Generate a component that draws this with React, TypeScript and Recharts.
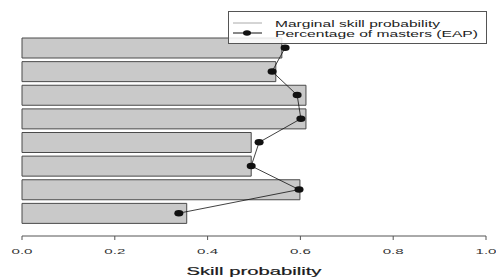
import React from 'react';
import { ComposedChart, Bar, Line, XAxis, YAxis } from 'recharts';

const skills = ['A1', 'A2', 'A3', 'A4', 'A5', 'A6', 'A7', 'A8'];
const marginal = [0.56, 0.547, 0.612, 0.612, 0.494, 0.494, 0.599, 0.355];
const eap = [0.567, 0.539, 0.593, 0.601, 0.511, 0.494, 0.597, 0.338];
const xTicks = [0, 0.2, 0.4, 0.6, 0.8, 1.0];

const data = skills.map((s, i) => ({ skill: s, marginal: marginal[i], eap: eap[i] }));

const FONT = '"Liberation Sans", Arial, sans-serif';

const TickLabel = (props: any) => {
    const { x, y, payload } = props;
    return (
        <text
            x={x}
            y={y + 14}
            textAnchor="middle"
            fontFamily={FONT}
            fontSize={8}
            fill="#333"
            textLength={21}
            lengthAdjust="spacingAndGlyphs"
        >
            {Number(payload.value).toFixed(1)}
        </text>
    );
};

const AxisTitle = (props: any) => {
    const { viewBox } = props;
    const cx = viewBox.x + viewBox.width / 2;
    return (
        <text
            x={cx}
            y={275}
            textAnchor="middle"
            fontFamily={FONT}
            fontSize={11}
            fill="#1a1a1a"
            stroke="#1a1a1a"
            strokeWidth={0.2}
            textLength={135}
            lengthAdjust="spacingAndGlyphs"
        >
            Skill probability
        </text>
    );
};

const Dot = (props: any) => {
    const { cx, cy, index } = props;
    return <ellipse key={'d' + index} cx={cx} cy={cy} rx={4.5} ry={3.2} fill="#111" />;
};

const ChartLegend = () => (
    <svg width={260} height={34} style={{ position: 'absolute', left: 228, top: 11 }}>
        <rect x={0.5} y={0.5} width={258} height={32} fill="#fff" fillOpacity={0.85} stroke="#555" />
        <line x1={5} x2={34} y1={12} y2={12} stroke="#aaa" strokeWidth={1} />
        <line x1={5} x2={34} y1={22} y2={22} stroke="#111" strokeWidth={1} />
        <ellipse cx={19} cy={22} rx={4} ry={2.8} fill="#111" />
        <text x={47} y={16} fontFamily={FONT} fontSize={9} fill="#222" textLength={165} lengthAdjust="spacingAndGlyphs">
            Marginal skill probability
        </text>
        <text x={47} y={26} fontFamily={FONT} fontSize={9} fill="#222" textLength={203} lengthAdjust="spacingAndGlyphs">
            Percentage of masters (EAP)
        </text>
    </svg>
);

const App = () => {
    return (
        <div style={{ position: 'absolute', left: 0, top: 0, width: 496, height: 277, background: '#fff' }}>
            <ComposedChart
                width={496}
                height={277}
                data={data}
                layout="vertical"
                margin={{ top: 36, right: 10, left: 22, bottom: 0 }}
            >
                <XAxis
                    type="number"
                    domain={[0, 1]}
                    ticks={xTicks}
                    height={41}
                    tickSize={4}
                    tickMargin={0}
                    stroke="#555"
                    tick={<TickLabel />}
                    label={{ content: <AxisTitle /> }}
                />
                <YAxis
                    type="category"
                    dataKey="skill"
                    hide
                    width={0}
                    tick={false}
                    tickLine={false}
                    axisLine={false}
                    padding={{ top: 0, bottom: 11 }}
                />
                <Bar dataKey="marginal" barSize={20} fill="#c9c9c9" stroke="#4a4a4a" strokeWidth={1} isAnimationActive={false} />
                <Line dataKey="eap" stroke="#111" strokeWidth={0.8} dot={<Dot />} isAnimationActive={false} />
            </ComposedChart>
            <ChartLegend />
        </div>
    );
};

export default App;
